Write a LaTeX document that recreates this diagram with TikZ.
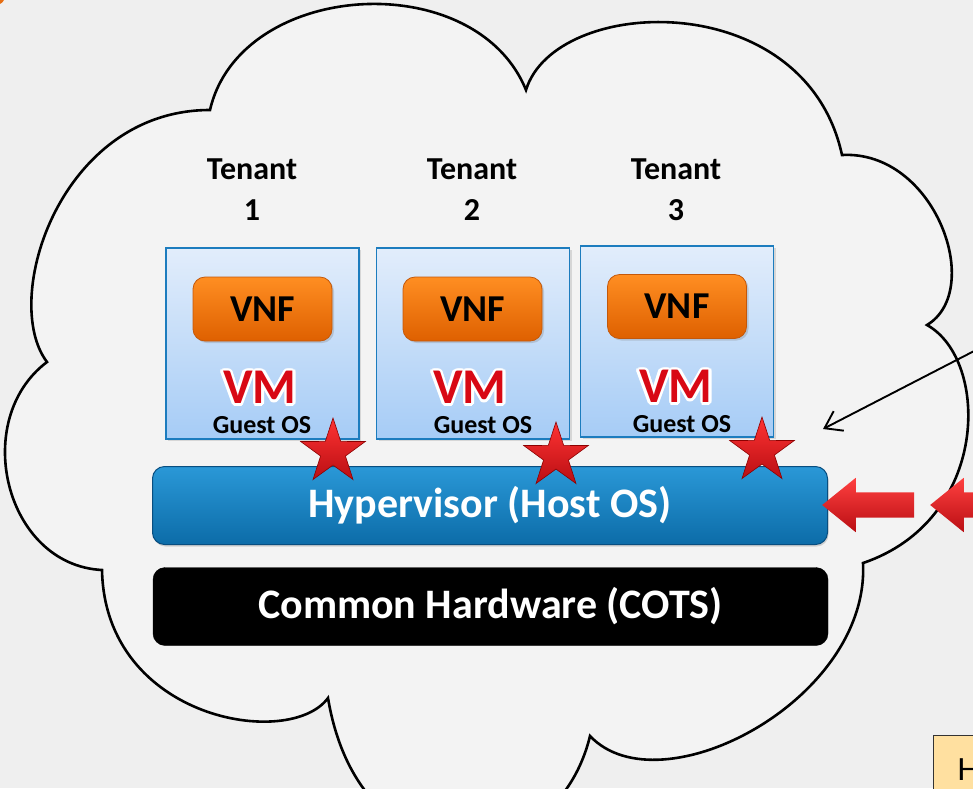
\documentclass[tikz,border=0pt]{standalone}
\usepackage{fontspec}
\setmainfont{Carlito}
\usepackage{tikz}
\usetikzlibrary{arrows.meta}
\usetikzlibrary{shapes.geometric}
\usetikzlibrary{shapes.arrows}
\usetikzlibrary{shadows}
\usepackage[copies]{contour}
\contourlength{2.6pt}

\definecolor{bgcol}{RGB}{239,239,239}
\definecolor{cloudcol}{RGB}{243,243,243}
\definecolor{vmtop}{RGB}{226,237,251}
\definecolor{vmbot}{RGB}{166,204,246}
\definecolor{vmline}{RGB}{28,124,190}
\definecolor{vnftop}{RGB}{255,142,34}
\definecolor{vnfbot}{RGB}{222,96,0}
\definecolor{vnfline}{RGB}{196,88,10}
\definecolor{hyptop}{RGB}{42,152,215}
\definecolor{hypbot}{RGB}{12,108,168}
\definecolor{hypline}{RGB}{8,78,128}
\definecolor{vmred}{RGB}{216,8,20}
\definecolor{starred}{RGB}{232,18,24}
\definecolor{noteyellow}{RGB}{255,224,160}
\definecolor{cornerorange}{RGB}{230,110,20}

\begin{document}
\begin{tikzpicture}[x=1pt, y=-1pt]
  \tikzset{
    tenantlabel/.style={align=center, inner sep=0pt, font=\bfseries\fontsize{32}{41}\selectfont},
    tenantbox/.style={rectangle, draw=vmline, line width=1.4pt, top color=vmtop, bottom color=vmbot,
      minimum width=193pt, minimum height=191pt, inner sep=0pt,
      drop shadow={opacity=0.25, shadow xshift=2pt, shadow yshift=-2pt}},
    vnfbox/.style={rectangle, rounded corners=12pt, draw=vnfline, line width=0.8pt,
      top color=vnftop, bottom color=vnfbot, minimum width=139pt, minimum height=64pt, inner sep=0pt,
      font=\bfseries\fontsize{38}{38}\selectfont,
      drop shadow={opacity=0.3, shadow xshift=2pt, shadow yshift=-2pt}},
    vmlabel/.style={inner sep=0pt, text=vmred, font=\bfseries\fontsize{50}{50}\selectfont},
    oslabel/.style={inner sep=0pt, font=\bfseries\fontsize{26}{26}\selectfont},
    redstar/.style={star, star points=5, star point ratio=2.6, minimum size=68pt, inner sep=0pt,
      draw=red!55!black, line width=0.6pt, top color=red!80!white, bottom color=starred!80!black},
    barbox/.style={rectangle, rounded corners=12pt, minimum width=675pt, minimum height=78pt,
      inner sep=0pt, text=white, font=\bfseries\fontsize{42}{42}\selectfont},
    hypbar/.style={barbox, draw=hypline, line width=1pt, top color=hyptop, bottom color=hypbot,
      drop shadow={opacity=0.3, shadow xshift=1pt, shadow yshift=-2pt}},
    hwbar/.style={barbox, fill=black, draw=black},
    redarrow/.style={single arrow, shape border rotate=180, minimum height=92pt, minimum width=54pt,
      single arrow head extend=14.5pt, single arrow tip angle=78, inner xsep=0pt, inner ysep=12.5pt,
      top color=red!75!white, bottom color=starred!80!black},
    notebox/.style={rectangle, draw=black!80, line width=1.2pt, fill=noteyellow, anchor=north west,
      text width=100pt, align=left, inner xsep=24pt, inner ysep=23pt,
      font=\fontsize{34}{34}\selectfont}
  }

  \useasboundingbox (0,0) rectangle (973,788);
  \clip (0,0) rectangle (973,788);
  \fill[bgcol] (0,0) rectangle (973,788);
  \fill[cornerorange] (-4,-4) circle (9);

  % the cloud
  \draw[line width=2.6pt, fill=cloudcol]
    (210,110) .. controls (240,-20) and (475,-35) .. (526,90)
    .. controls (555,-5) and (805,-15) .. (842,155)
    .. controls (935,150) and (985,290) .. (927,325)
    .. controls (990,360) and (990,520) .. (863,563)
    .. controls (870,700) and (660,810) .. (590,736)
    .. controls (555,880) and (360,890) .. (328,698)
    .. controls (290,750) and (105,720) .. (102,570)
    .. controls (5,565) and (-30,420) .. (47,362)
    .. controls (0,300) and (60,110) .. (210,110) -- cycle;

  % tenants
  \node[tenantlabel] (ten1) at (252,190) {Tenant\\1};
  \node[tenantlabel] (ten2) at (472,190) {Tenant\\2};
  \node[tenantlabel] (ten3) at (676,190) {Tenant\\3};

  \node[tenantbox] (vm1) at (262.5,343.5) {};
  \node[tenantbox] (vm2) at (473,343.5) {};
  \node[tenantbox] (vm3) at (677,341.5) {};

  \node[vnfbox] (vnf1) at (262.5,309) {VNF};
  \node[vnfbox] (vnf2) at (472.5,309) {VNF};
  \node[vnfbox] (vnf3) at (677,306.5) {VNF};

  \node[vmlabel] (vmtxt1) at (260,389) {\contour{white}{VM}};
  \node[vmlabel] (vmtxt2) at (470,389) {\contour{white}{VM}};
  \node[vmlabel] (vmtxt3) at (676,388) {\contour{white}{VM}};

  \node[oslabel] (os1) at (262,425) {Guest OS};
  \node[oslabel] (os2) at (483,425) {Guest OS};
  \node[oslabel] (os3) at (682,424) {Guest OS};

  % layers
  \node[hypbar] (hyp) at (490,505.5) {Hypervisor (Host OS)};
  \node[hwbar] (hw) at (490.5,606.5) {Common Hardware (COTS)};

  \node[redstar] (star1) at (333,452) {};
  \node[redstar] (star2) at (556,456) {};
  \node[redstar] (star3) at (762,451) {};

  % pointers from the right
  \coordinate (ptrstart) at (978,349);
  \coordinate (ptrend) at (823,429);
  \draw[-{Straight Barb[length=16pt,width=22pt]}, line width=1.9pt] (ptrstart) -- (ptrend);

  \node[redarrow] (push1) at (876,505) {};
  \node[redarrow] (push2) at (984,505) {};

  \node[notebox] (note) at (933,735) {H};
\end{tikzpicture}
\end{document}
